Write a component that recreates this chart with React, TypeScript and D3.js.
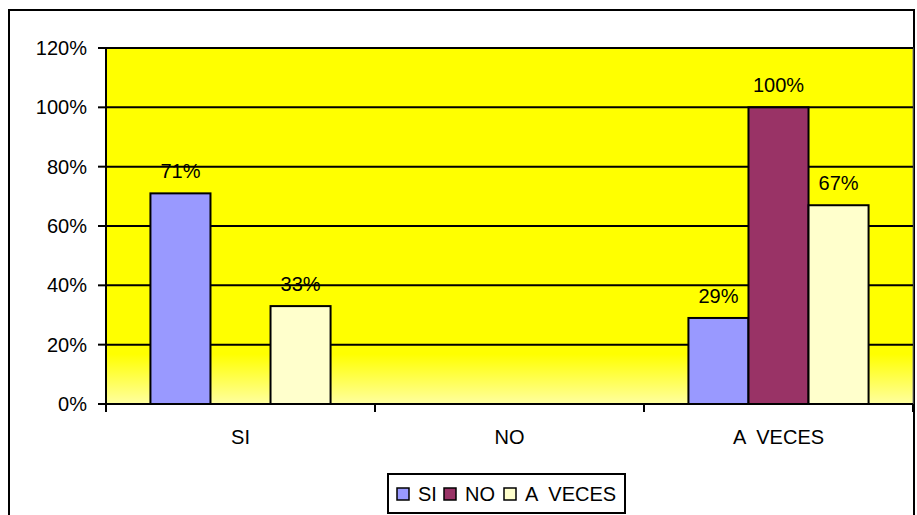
import React from "react";
import * as d3 from "d3";

const categories = ["SI", "NO", "A VECES"];
const seriesNames = ["SI", "NO", "A VECES"];
const seriesColors = ["#9999FF", "#993366", "#FFFFCC"];
// values[series][category], null = no bar
const valuesSI = [0.71, null, 0.29];
const valuesNO = [null, null, 1.0];
const valuesAV = [0.33, null, 0.67];
const yTicks = [0, 0.2, 0.4, 0.6, 0.8, 1.0, 1.2];

export default function App() {
  const W = 917, H = 515;
  const left = 106, right = 913, top = 48, bottom = 404;
  const series = [valuesSI, valuesNO, valuesAV];

  const x0 = d3.scaleBand<string>().domain(categories).range([left, right]).paddingInner(0).paddingOuter(0);
  const x1 = d3.scaleBand<string>().domain(seriesNames).range([0, x0.bandwidth()]).paddingOuter(0.74).paddingInner(0);
  const y = d3.scaleLinear().domain([0, 1.2]).range([bottom, top]);
  const fmt = d3.format(".0%");
  const font = "Liberation Sans, Arial, sans-serif";
  const fs = 20;
  const legendX = [397, 444, 504];

  return (
    <svg width={W} height={H} style={{ position: "absolute", left: 0, top: 0, background: "#fff" }} fontFamily={font}>
      <defs>
        <linearGradient id="bg" x1="0" y1="0" x2="0" y2="1">
          <stop offset="0" stopColor="#FFFF00" />
          <stop offset="0.86" stopColor="#FFFF00" />
          <stop offset="1" stopColor="#FFFFA0" />
        </linearGradient>
      </defs>
      <rect x={9} y={10} width={905} height={520} fill="#fff" stroke="#000" strokeWidth={2} />
      <rect x={left} y={top} width={right - left} height={bottom - top} fill="url(#bg)" stroke="#808080" strokeWidth={1} />
      {yTicks.filter(t => t > 0).map(t => (
        <line key={t} x1={left} x2={right} y1={y(t)} y2={y(t)} stroke="#000" strokeWidth={2} />
      ))}
      {series.map((vals, si) =>
        vals.map((v, ci) =>
          v == null ? null : (
            <rect key={`${si}-${ci}`}
              x={(x0(categories[ci]) as number) + (x1(seriesNames[si]) as number)}
              y={y(v)} width={x1.bandwidth()} height={bottom - y(v)}
              fill={seriesColors[si]} stroke="#000" strokeWidth={2} />
          )
        )
      )}
      {series.map((vals, si) =>
        vals.map((v, ci) =>
          v == null ? null : (
            <text key={`l${si}-${ci}`}
              x={(x0(categories[ci]) as number) + (x1(seriesNames[si]) as number) + x1.bandwidth() / 2}
              y={y(v) - 15} textAnchor="middle" fontSize={fs}>{fmt(v)}</text>
          )
        )
      )}
      {/* axes */}
      <line x1={left} x2={left} y1={top} y2={bottom + 7} stroke="#000" strokeWidth={2} />
      <line x1={left} x2={right} y1={bottom} y2={bottom} stroke="#000" strokeWidth={2} />
      {yTicks.map(t => (
        <g key={`yt${t}`}>
          <line x1={left - 8} x2={left} y1={y(t)} y2={y(t)} stroke="#000" strokeWidth={2} />
          <text x={left - 19} y={y(t)} dy="0.35em" textAnchor="end" fontSize={fs}>{fmt(t)}</text>
        </g>
      ))}
      {[...categories.map(c => x0(c) as number), right].map((xv, i) => (
        <line key={`xt${i}`} x1={xv} x2={xv} y1={bottom} y2={bottom + 8} stroke="#000" strokeWidth={2} />
      ))}
      {categories.map(c => (
        <text key={`xc${c}`} x={(x0(c) as number) + x0.bandwidth() / 2} y={444} textAnchor="middle" fontSize={fs}
          style={{ whiteSpace: "pre" }}>{c.replace(" ", "  ")}</text>
      ))}
      {/* legend */}
      <rect x={388} y={474} width={237} height={39} fill="#fff" stroke="#000" strokeWidth={2} />
      {seriesNames.map((n, i) => (
        <g key={`lg${i}`}>
          <rect x={legendX[i]} y={488} width={12} height={12} fill={seriesColors[i]} stroke="#000" strokeWidth={1.5} />
          <text x={legendX[i] + 21} y={501} fontSize={fs} style={{ whiteSpace: "pre" }}>{n.replace(" ", "  ")}</text>
        </g>
      ))}
    </svg>
  );
}
